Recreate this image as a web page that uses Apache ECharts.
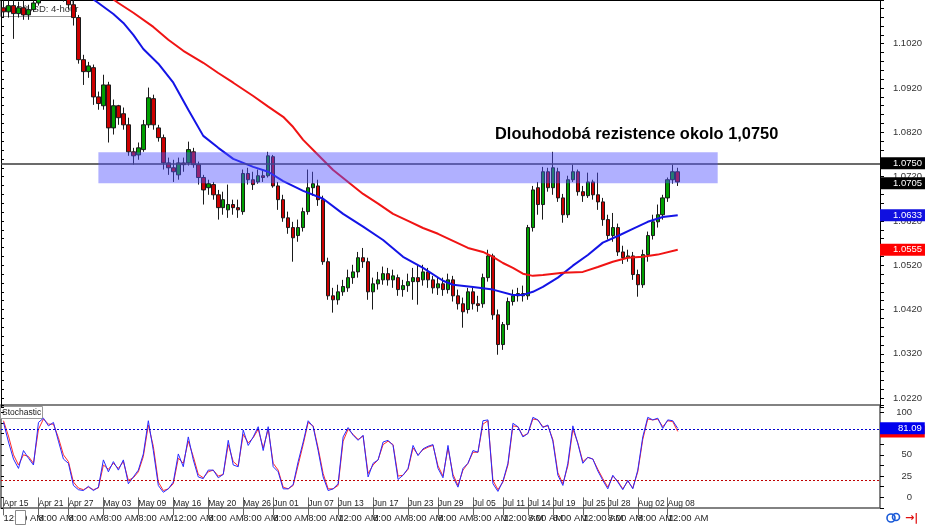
<!DOCTYPE html>
<html><head><meta charset="utf-8">
<script src="https://cdn.jsdelivr.net/npm/echarts@6/dist/echarts.min.js"></script>
<style>html,body{margin:0;padding:0;background:#fff}#c{width:925px;height:525px}</style>
</head><body><div id="c"></div><script>
// ---------- data ----------
const totalSlots = 176;
// [open, close, low, high]
const candles = [
[1.1101,1.1092,1.1079,1.1126],[1.1092,1.1106,1.1079,1.1124],[1.1106,1.1088,1.1031,1.1119],[1.1088,1.1101,1.1079,1.1115],
[1.1101,1.1085,1.1074,1.1119],[1.1085,1.1097,1.1074,1.1108],[1.1097,1.1112,1.1092,1.1126],[1.1112,1.1126,1.1106,1.1133],
[1.1126,1.1133,1.1122,1.1142],[1.1133,1.1128,1.1119,1.1142],[1.1128,1.1137,1.1122,1.1146],[1.1137,1.1131,1.1122,1.1146],
[1.1131,1.1124,1.1115,1.1137],[1.1124,1.1108,1.1097,1.1131],[1.1108,1.1079,1.1061,1.1119],[1.1079,1.0984,1.0975,1.1085],
[1.0984,1.0957,1.0927,1.0995],[1.0957,1.0970,1.0943,1.0979],[1.0966,1.0900,1.0882,1.0973],[1.0900,1.0885,1.0871,1.0912],
[1.0880,1.0927,1.0871,1.0950],[1.0927,1.0830,1.0797,1.0934],[1.0830,1.0880,1.0815,1.0894],[1.0880,1.0853,1.0837,1.0882],
[1.0862,1.0837,1.0826,1.0876],[1.0837,1.0776,1.0767,1.0853],[1.0776,1.0767,1.0747,1.0785],[1.0769,1.0785,1.0758,1.0797],
[1.0781,1.0837,1.0776,1.0848],[1.0837,1.0898,1.0830,1.0921],[1.0896,1.0837,1.0826,1.0905],[1.0830,1.0808,1.0799,1.0837],
[1.0808,1.0751,1.0736,1.0815],[1.0751,1.0740,1.0724,1.0763],[1.0740,1.0731,1.0708,1.0758],[1.0724,1.0751,1.0713,1.0763],
[1.0751,1.0747,1.0731,1.0763],[1.0751,1.0781,1.0745,1.0799],[1.0776,1.0747,1.0740,1.0785],[1.0747,1.0718,1.0702,1.0754],
[1.0718,1.0690,1.0657,1.0724],[1.0695,1.0704,1.0679,1.0713],[1.0702,1.0679,1.0668,1.0708],[1.0679,1.0650,1.0623,1.0690],
[1.0650,1.0668,1.0634,1.0686],[1.0645,1.0657,1.0627,1.0702],[1.0657,1.0650,1.0634,1.0668],[1.0650,1.0645,1.0627,1.0668],
[1.0641,1.0727,1.0634,1.0736],[1.0727,1.0713,1.0702,1.0740],[1.0713,1.0702,1.0690,1.0731],[1.0708,1.0722,1.0704,1.0736],
[1.0722,1.0718,1.0708,1.0736],[1.0722,1.0767,1.0718,1.0776],[1.0765,1.0699,1.0695,1.0769],[1.0699,1.0668,1.0645,1.0708],
[1.0668,1.0627,1.0618,1.0679],[1.0627,1.0605,1.0591,1.0641],[1.0605,1.0582,1.0528,1.0618],[1.0587,1.0605,1.0573,1.0623],
[1.0605,1.0641,1.0596,1.0650],[1.0641,1.0695,1.0634,1.0736],[1.0695,1.0704,1.0677,1.0731],[1.0699,1.0668,1.0654,1.0713],
[1.0668,1.0528,1.0521,1.0677],[1.0528,1.0451,1.0442,1.0537],[1.0451,1.0442,1.0413,1.0469],[1.0442,1.0460,1.0431,1.0476],
[1.0460,1.0472,1.0451,1.0487],[1.0469,1.0492,1.0460,1.0510],[1.0492,1.0505,1.0478,1.0521],[1.0505,1.0537,1.0492,1.0550],
[1.0537,1.0528,1.0514,1.0559],[1.0528,1.0460,1.0442,1.0537],[1.0460,1.0478,1.0420,1.0492],[1.0478,1.0487,1.0465,1.0505],
[1.0487,1.0501,1.0476,1.0517],[1.0501,1.0487,1.0474,1.0514],[1.0487,1.0496,1.0469,1.0510],[1.0492,1.0465,1.0451,1.0499],
[1.0465,1.0474,1.0449,1.0487],[1.0474,1.0483,1.0460,1.0501],[1.0483,1.0492,1.0442,1.0514],[1.0492,1.0483,1.0431,1.0521],
[1.0487,1.0505,1.0474,1.0521],[1.0505,1.0487,1.0469,1.0514],[1.0487,1.0469,1.0456,1.0496],[1.0469,1.0478,1.0453,1.0492],
[1.0478,1.0465,1.0451,1.0492],[1.0465,1.0487,1.0456,1.0501],[1.0487,1.0451,1.0438,1.0496],[1.0451,1.0433,1.0420,1.0465],
[1.0433,1.0415,1.0379,1.0447],[1.0420,1.0460,1.0411,1.0469],[1.0460,1.0433,1.0420,1.0469],[1.0433,1.0429,1.0415,1.0451],
[1.0433,1.0492,1.0424,1.0501],[1.0492,1.0541,1.0483,1.0555],[1.0541,1.0408,1.0397,1.0546],[1.0408,1.0341,1.0318,1.0420],
[1.0341,1.0386,1.0329,1.0392],[1.0386,1.0438,1.0374,1.0447],[1.0438,1.0451,1.0429,1.0465],[1.0451,1.0456,1.0438,1.0469],
[1.0456,1.0451,1.0438,1.0474],[1.0451,1.0605,1.0442,1.0611],[1.0605,1.0690,1.0596,1.0699],[1.0695,1.0657,1.0634,1.0708],
[1.0657,1.0731,1.0623,1.0742],[1.0731,1.0695,1.0686,1.0740],[1.0695,1.0740,1.0679,1.0776],[1.0731,1.0672,1.0663,1.0740],
[1.0672,1.0634,1.0616,1.0681],[1.0634,1.0713,1.0627,1.0722],[1.0713,1.0731,1.0708,1.0747],[1.0731,1.0686,1.0677,1.0736],
[1.0686,1.0677,1.0663,1.0699],[1.0677,1.0708,1.0672,1.0729],[1.0708,1.0679,1.0668,1.0713],[1.0679,1.0663,1.0645,1.0729],
[1.0663,1.0623,1.0609,1.0672],[1.0623,1.0587,1.0578,1.0634],[1.0587,1.0605,1.0573,1.0638],[1.0605,1.0550,1.0541,1.0614],
[1.0550,1.0537,1.0523,1.0564],[1.0537,1.0541,1.0528,1.0555],[1.0541,1.0499,1.0487,1.0550],[1.0499,1.0476,1.0449,1.0510],
[1.0476,1.0544,1.0469,1.0555],[1.0544,1.0587,1.0528,1.0596],[1.0587,1.0618,1.0578,1.0634],[1.0618,1.0634,1.0605,1.0657],
[1.0634,1.0672,1.0623,1.0679],[1.0672,1.0713,1.0663,1.0718],[1.0713,1.0731,1.0704,1.0747],[1.0731,1.0708,1.0699,1.0740]
];
// moving averages as [barIndex, price]
const maFast = [[17,1.1128],[19,1.1112],[22,1.1087],[24,1.1067],[26,1.1040],[28,1.1008],[31,1.0975],[34,1.0932],[37,1.0871],[40,1.0812],[43,1.0785],[46,1.0760],[50,1.0742],[53,1.0731],[56,1.0710],[60,1.0688],[64,1.0670],[68,1.0636],[72,1.0607],[76,1.0577],[80,1.0539],[84,1.0514],[88,1.0485],[90,1.0476],[94,1.0471],[98,1.0465],[102,1.0453],[104,1.0453],[106,1.0460],[108,1.0471],[111,1.0492],[114,1.0519],[117,1.0543],[120,1.0571],[123,1.0586],[126,1.0602],[129,1.0618],[132,1.0629],[135,1.0633]];
const maSlow = [[21,1.1128],[23,1.1112],[26,1.1090],[30,1.1058],[33,1.1029],[36,1.1004],[40,1.0977],[43,1.0954],[46,1.0932],[50,1.0902],[53,1.0878],[56,1.0855],[58,1.0832],[60,1.0803],[63,1.0769],[66,1.0735],[69,1.0708],[72,1.0681],[75,1.0659],[78,1.0636],[81,1.0620],[84,1.0604],[87,1.0591],[90,1.0575],[93,1.0559],[96,1.0550],[98,1.0539],[100,1.0525],[102,1.0514],[104,1.0501],[106,1.0496],[108,1.0498],[112,1.0503],[116,1.0505],[119,1.0516],[122,1.0528],[125,1.0537],[128,1.0539],[131,1.0544],[135,1.0555]];
const stochMain = [88,65,45,34,55,46,38,88,93,84,88,66,45,40,14,9,8,13,8,12,44,30,42,32,44,16,24,32,51,90,55,14,6,10,18,51,36,71,44,24,22,32,32,23,27,67,38,36,79,61,71,83,55,83,36,30,10,10,15,42,65,90,83,55,24,8,10,16,71,82,73,67,73,24,40,44,65,67,61,21,26,34,61,49,57,60,62,34,23,61,24,12,34,40,55,53,90,91,16,7,19,40,87,83,71,75,94,91,82,85,66,26,14,40,84,63,40,47,45,31,20,10,26,18,9,20,10,32,71,94,91,93,81,91,90,81.09];
const stochSignal = [90,72,50,38,50,48,40,80,92,86,86,70,50,42,18,11,9,12,9,11,38,33,40,34,42,20,23,30,48,85,60,18,8,10,16,46,40,66,48,27,23,30,32,25,27,62,42,37,74,64,70,80,58,80,40,32,12,10,14,38,62,88,84,58,28,10,10,14,66,80,74,68,72,28,38,44,62,66,62,25,26,33,58,50,56,59,61,37,25,58,27,14,32,40,53,53,86,90,20,9,18,38,84,83,72,75,92,91,83,84,68,29,16,37,80,64,42,47,45,33,22,12,25,19,10,19,11,30,68,92,91,92,83,90,89,77.5];
const stochLevels = [80, 20];
const resistanceLevel = 1.0750;
const zoneTop = 1.0775, zoneBottom = 1.0705;
const zoneStart = 19, zoneEnd = 143;
const tickIdx = [0,7,13,20,27,34,41,48,54,61,67,74,81,87,94,100,105,110,116,121,127,133];
const dateLabels = ['Apr 15','Apr 21','Apr 27','May 03','May 09','May 16','May 20','May 26','Jun 01','Jun 07','Jun 13','Jun 17','Jun 23','Jun 29','Jul 05','Jul 11','Jul 14','Jul 19','Jul 25','Jul 28','Aug 02','Aug 08'];
const timeLabels = ['12:00 AM','8:00 AM','8:00 AM','8:00 AM','8:00 AM','12:00 AM','8:00 AM','8:00 AM','8:00 AM','8:00 AM','12:00 AM','8:00 AM','8:00 AM','8:00 AM','8:00 AM','12:00 AM','8:00 AM','8:00 AM','12:00 AM','8:00 AM','8:00 AM','12:00 AM'];
const titleText = 'AUD/USD: 4-hour';
const annotationText = 'Dlouhodobá rezistence okolo 1,0750';

// ---------- chart ----------
const FN = '"Liberation Sans",Arial,sans-serif';
const categories = Array.from({length: totalSlots}, (_, i) => String(i));
const dateMap = {}, timeMap = {};
tickIdx.forEach((k, j) => { dateMap[k] = dateLabels[j]; timeMap[k] = timeLabels[j]; });

function priceBox(bg) {
  return {show: true, position: 'end', distance: 0, formatter: p => Number(p.value).toFixed(4),
    backgroundColor: bg, color: '#fff', fontSize: 9.5, fontFamily: FN, lineHeight: 11,
    padding: [1, 3, 0, 13]};
}
function stochBox(bg) {
  return {show: true, position: 'end', distance: 0, formatter: p => Number(p.value).toFixed(2),
    backgroundColor: bg, color: '#fff', fontSize: 9.5, fontFamily: FN, lineHeight: 11,
    padding: [1, 3, 0, 18]};
}
const hidden = {color: 'rgba(0,0,0,0)', width: 1, type: 'solid'};
const last = a => a[a.length - 1];

const option = {
  animation: false,
  backgroundColor: '#ffffff',
  textStyle: {fontFamily: FN},
  grid: [
    {left: 1, right: 45, top: 0, height: 407},
    {left: 1, right: 45, top: 405, height: 103, show: true, borderColor: '#5a5a5a', borderWidth: 1.5}
  ],
  xAxis: [
    {type: 'category', gridIndex: 0, data: categories, position: 'top',
     axisLine: {show: true, lineStyle: {color: '#000', width: 2}}, axisTick: {show: false}, axisLabel: {show: false}},
    {type: 'category', gridIndex: 1, data: categories, position: 'bottom',
     axisLine: {show: false}, axisTick: {show: false},
     axisLabel: {inside: true, interval: 0, align: 'left', margin: 0, fontSize: 8.5, color: '#222',
                 formatter: (v, i) => dateMap[i] || ''}},
    {type: 'category', gridIndex: 1, data: categories, position: 'bottom',
     axisLine: {show: false},
     axisTick: {show: true, alignWithLabel: true, interval: (i) => (i in dateMap), length: 18, lineStyle: {color: '#666'}},
     axisLabel: {interval: 0, align: 'left', margin: 5, fontSize: 9.5, color: '#222',
                 formatter: (v, i) => timeMap[i] || ''}}
  ],
  yAxis: [
    {type: 'value', gridIndex: 0, position: 'right', min: 1.02, max: 1.11187, interval: 0.002,
     axisLine: {show: true, lineStyle: {color: '#000'}}, axisTick: {show: true, length: 4, lineStyle: {color: '#000'}},
     splitLine: {show: false},
     axisLabel: {align: 'right', margin: 42, fontSize: 9.5, color: '#333',
                 formatter: v => (Math.round(v * 10000) % 100 === 20 ? v.toFixed(4) : '')}},
    {type: 'value', gridIndex: 0, position: 'left', min: 1.02, max: 1.11187, interval: 0.002,
     axisLine: {show: true, lineStyle: {color: '#000'}}, axisTick: {show: true, inside: true, length: 3, lineStyle: {color: '#000'}},
     splitLine: {show: false}, axisLabel: {show: false}},
    {type: 'value', gridIndex: 1, position: 'right', min: -12.5, max: 108.5, interval: 12.5,
     axisLine: {show: false}, axisTick: {show: true, length: 4, lineStyle: {color: '#000'}},
     splitLine: {show: false},
     axisLabel: {align: 'right', margin: 32, fontSize: 9.5, color: '#333',
                 formatter: v => ([0, 25, 50, 75, 100].indexOf(v) >= 0 ? String(v) : '')}},
    {type: 'value', gridIndex: 1, position: 'left', min: -12.5, max: 108.5, interval: 12.5,
     axisLine: {show: false}, axisTick: {show: true, inside: true, length: 3, lineStyle: {color: '#000'}},
     splitLine: {show: false}, axisLabel: {show: false}}
  ],
  series: [
    {type: 'candlestick', name: 'AUDUSD', xAxisIndex: 0, yAxisIndex: 0, data: candles, barWidth: 4, clip: true, z: 3,
     itemStyle: {color: '#00a000', color0: '#cc0000', borderColor: '#1a1a1a', borderColor0: '#1a1a1a', borderWidth: 1}},
    {type: 'line', name: 'MA fast', xAxisIndex: 0, yAxisIndex: 0, data: maFast, symbol: 'none', z: 4,
     lineStyle: {color: '#1414e6', width: 2}, clip: true},
    {type: 'line', name: 'MA slow', xAxisIndex: 0, yAxisIndex: 0, data: maSlow, symbol: 'none', z: 4,
     lineStyle: {color: '#f01414', width: 2}, clip: true},
    {type: 'line', name: 'levels', xAxisIndex: 0, yAxisIndex: 0, data: [], z: 2, silent: true, clip: false,
     markLine: {silent: true, precision: 4, symbol: ['none', 'none'], animation: false,
       data: [
         {yAxis: resistanceLevel, lineStyle: {color: '#3a3a3a', width: 1.5, type: 'solid'}, label: priceBox('#000')},
         {yAxis: zoneBottom, lineStyle: hidden, label: priceBox('#000')},
         {yAxis: last(maSlow)[1], lineStyle: hidden, label: priceBox('#ff0000')},
         {yAxis: last(maFast)[1], lineStyle: hidden, label: priceBox('#1010e0')}
       ]}},
    {type: 'line', name: 'zone', xAxisIndex: 0, yAxisIndex: 0, data: [], z: 10, silent: true,
     markArea: {silent: true, z: 10, itemStyle: {color: 'rgba(80,80,255,0.45)'},
       data: [[{xAxis: zoneStart, yAxis: zoneTop}, {xAxis: zoneEnd, yAxis: zoneBottom}]]}},
    {type: 'line', name: 'Signal', xAxisIndex: 1, yAxisIndex: 2, data: stochSignal, symbol: 'none', z: 3,
     lineStyle: {color: '#ff2a2a', width: 1}, clip: true},
    {type: 'line', name: 'Main', xAxisIndex: 1, yAxisIndex: 2, data: stochMain, symbol: 'none', z: 4,
     lineStyle: {color: '#2a2aff', width: 1}, clip: true},
    {type: 'line', name: 'stochLevels', xAxisIndex: 1, yAxisIndex: 2, data: [], z: 5, silent: true, clip: false,
     markLine: {silent: true, precision: 2, symbol: ['none', 'none'], animation: false,
       data: [
         {yAxis: stochLevels[0], lineStyle: {color: '#0000d0', width: 1, type: [2, 2]}, label: {show: false}},
         {yAxis: stochLevels[1], lineStyle: {color: '#c00000', width: 1, type: [2, 2]}, label: {show: false}},
         {yAxis: last(stochSignal), lineStyle: hidden, label: stochBox('#ff0000')},
         {yAxis: last(stochMain), lineStyle: hidden, label: stochBox('#0000ee')}
       ]}}
  ],
  graphic: [
    {type: 'rect', z: 0, shape: {x: 0.5, y: 0.5, width: 72, height: 16}, style: {fill: '#fff', stroke: '#999', lineWidth: 1}},
    {type: 'text', z: 0, x: 3, y: 9, style: {text: titleText, font: '9.5px ' + FN, fill: '#333', verticalAlign: 'middle'}},
    {type: 'rect', z: 0, shape: {x: 0.5, y: 406.5, width: 42, height: 12}, style: {fill: '#fff', stroke: '#999', lineWidth: 1}},
    {type: 'text', z: 0, x: 2, y: 413, style: {text: 'Stochastic', font: '8.5px ' + FN, fill: '#222', verticalAlign: 'middle'}},
    {type: 'text', z: 20, x: 495, y: 134, style: {text: annotationText, font: 'bold 16.4px "Liberation Sans", Arial, sans-serif', fill: '#000', verticalAlign: 'middle'}},
    {type: 'rect', z: 100, shape: {x: 15.5, y: 510.5, width: 10, height: 14}, style: {fill: '#fff', stroke: '#888', lineWidth: 1}},
    {type: 'circle', z: 100, shape: {cx: 891, cy: 518, r: 4}, style: {fill: 'none', stroke: '#1a5ad8', lineWidth: 1.6}},
    {type: 'circle', z: 100, shape: {cx: 896, cy: 517, r: 3.5}, style: {fill: 'none', stroke: '#1a5ad8', lineWidth: 1.6}},
    {type: 'text', z: 100, x: 905, y: 518, style: {text: '→|', font: 'bold 11px "DejaVu Sans", sans-serif', fill: '#e01010', verticalAlign: 'middle'}}
  ]
};
const chart = echarts.init(document.getElementById('c'), null, {renderer: 'canvas'});
chart.setOption(option);
</script></body></html>
